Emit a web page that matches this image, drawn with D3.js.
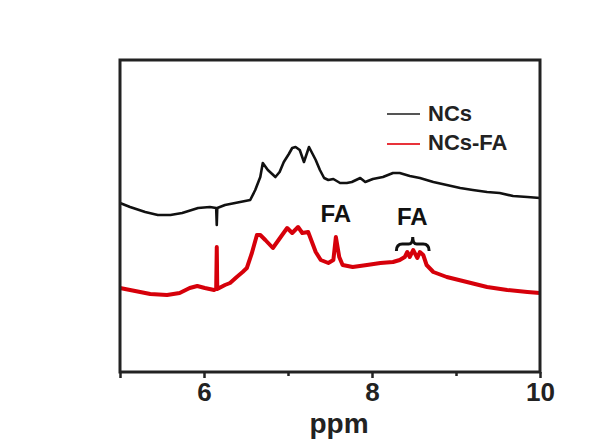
<!DOCTYPE html>
<html>
<head>
<meta charset="utf-8">
<script src="https://cdn.jsdelivr.net/npm/d3@7"></script>
<style>
  body { margin: 0; background: #fff; }
  svg { display: block; font-family: "Liberation Sans", Arial, sans-serif; }
</style>
</head>
<body>
<svg width="613" height="441"></svg>
<script>
// chemical shift (ppm) and intensity (arb. units)
let ncsPpm = [5.00, 5.12, 5.30, 5.45, 5.60, 5.74, 5.93, 6.07, 6.145, 6.152, 6.158, 6.25, 6.37, 6.49, 6.55, 6.61, 6.67, 6.70, 6.76, 6.85, 6.90, 6.95, 7.01, 7.05, 7.09, 7.14, 7.19, 7.25, 7.33, 7.38, 7.43, 7.48, 7.54, 7.62, 7.70, 7.76, 7.86, 7.92, 8.01, 8.13, 8.25, 8.33, 8.45, 8.57, 8.73, 8.89, 9.05, 9.20, 9.37, 9.52, 9.68, 9.85, 10.0];
let ncsInt = [169, 165, 160, 157, 157, 159, 164, 165, 164, 147, 164, 167, 169, 171, 172, 182, 195, 209, 202, 195, 200, 210, 218, 224, 225, 222, 210, 225, 212, 202, 194, 192, 193, 189, 189, 190, 194, 190, 193, 195, 199, 199, 196, 194, 190, 187, 184, 182, 180, 179, 176, 175, 174];

let faPpm = [5.00, 5.18, 5.36, 5.56, 5.71, 5.83, 5.92, 6.01, 6.12, 6.145, 6.152, 6.158, 6.25, 6.31, 6.39, 6.46, 6.51, 6.57, 6.63, 6.67, 6.73, 6.82, 6.93, 6.99, 7.05, 7.12, 7.17, 7.24, 7.33, 7.39, 7.48, 7.54, 7.57, 7.61, 7.65, 7.77, 7.94, 8.10, 8.25, 8.33, 8.39, 8.42, 8.45, 8.49, 8.54, 8.57, 8.61, 8.65, 8.73, 8.89, 9.13, 9.37, 9.61, 9.85, 10.0];
let faInt = [84, 81, 78, 77, 79, 84, 86, 84, 82, 83, 125, 83, 87, 89, 95, 100, 104, 119, 137, 137, 132, 124, 137, 144, 139, 145, 139, 140, 120, 112, 109, 112, 135, 115, 107, 105, 107, 109, 110, 112, 115, 120, 115, 122, 114, 120, 117, 107, 100, 95, 90, 85, 82, 80, 79];

let xTicks = [5, 6, 7, 8, 9, 10];
let xLabels = [6, 8, 10];

let svg = d3.select("svg");
let margin = {top: 60, right: 73, bottom: 69, left: 120};
let width = 613 - margin.left - margin.right,
  height = 441 - margin.top - margin.bottom;

let xScale = d3.scaleLinear().domain([5, 10]).range([0, width]);
let yScale = d3.scaleLinear().domain([0, 312]).range([height, 0]);

let g = svg.append("g")
  .attr("transform", "translate(" + margin.left + "," + margin.top + ")");

let line = d3.line()
  .x(d => xScale(d[0]))
  .y(d => yScale(d[1]));

g.append("path")
  .datum(faPpm.map((p, i) => [p, faInt[i]]))
  .attr("fill", "none")
  .attr("stroke", "#d6000a")
  .attr("stroke-width", 4)
  .attr("stroke-linejoin", "round")
  .attr("d", line);

g.append("path")
  .datum(ncsPpm.map((p, i) => [p, ncsInt[i]]))
  .attr("fill", "none")
  .attr("stroke", "#111")
  .attr("stroke-width", 2.6)
  .attr("stroke-linejoin", "round")
  .attr("d", line);

// frame
g.append("rect")
  .attr("width", width)
  .attr("height", height)
  .attr("fill", "none")
  .attr("stroke", "#222")
  .attr("stroke-width", 3);

// x axis
let xAxis = d3.axisBottom(xScale)
  .tickValues(xTicks)
  .tickSize(6)
  .tickFormat(d => xLabels.includes(d) ? d : "");

let ax = g.append("g")
  .attr("transform", "translate(0," + height + ")")
  .call(xAxis);
ax.select(".domain").remove();
ax.selectAll(".tick line")
  .attr("stroke", "#222")
  .attr("stroke-width", 2.5)
  .attr("y2", d => xLabels.includes(d) || d === 5 ? 6 : 4);
ax.selectAll(".tick text")
  .attr("fill", "#222")
  .attr("font-size", 26)
  .attr("font-weight", "bold")
  .attr("y", 11);

g.append("text")
  .attr("x", 219)
  .attr("y", height + 61)
  .attr("text-anchor", "middle")
  .attr("font-size", 28)
  .attr("font-weight", "bold")
  .attr("fill", "#222")
  .text("ppm");

// legend
let legend = [
  {name: "NCs", color: "#555", y: 54, base: 61},
  {name: "NCs-FA", color: "#e8323a", y: 84, base: 90}
];
legend.forEach(l => {
  g.append("line")
    .attr("x1", 267).attr("x2", 300)
    .attr("y1", l.y).attr("y2", l.y)
    .attr("stroke", l.color)
    .attr("stroke-width", 2);
  g.append("text")
    .attr("x", 308)
    .attr("y", l.base)
    .attr("font-size", 22)
    .attr("font-weight", "bold")
    .attr("fill", "#222")
    .text(l.name);
});

// FA annotations
g.append("text")
  .attr("x", xScale(7.57))
  .attr("y", 162)
  .attr("text-anchor", "middle")
  .attr("font-size", 24)
  .attr("font-weight", "bold")
  .attr("fill", "#111")
  .text("FA");

g.append("text")
  .attr("x", xScale(8.48))
  .attr("y", 165)
  .attr("text-anchor", "middle")
  .attr("font-size", 24)
  .attr("font-weight", "bold")
  .attr("fill", "#111")
  .text("FA");

// brace under the second FA
let bx0 = xScale(8.29), bx1 = xScale(8.68), bm = (bx0 + bx1) / 2, by = 184;
g.append("path")
  .attr("d", "M" + bx0 + "," + (by + 7) +
    " Q" + bx0 + "," + by + " " + (bx0 + 6) + "," + by +
    " L" + (bm - 4) + "," + by +
    " Q" + bm + "," + by + " " + bm + "," + (by - 7) +
    " Q" + bm + "," + by + " " + (bm + 4) + "," + by +
    " L" + (bx1 - 6) + "," + by +
    " Q" + bx1 + "," + by + " " + bx1 + "," + (by + 7))
  .attr("fill", "none")
  .attr("stroke", "#111")
  .attr("stroke-width", 3);
</script>
</body>
</html>
